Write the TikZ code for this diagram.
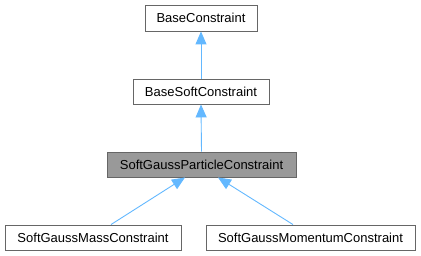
\documentclass[tikz,border=0pt]{standalone}
\usepackage{fontspec}
\setmainfont{Liberation Sans}
\usetikzlibrary{arrows.meta,calc}
\definecolor{boxborder}{HTML}{666666}
\definecolor{hilite}{HTML}{999999}
\definecolor{edgeblue}{HTML}{63B8FF}
\begin{document}
\begin{tikzpicture}[x=1pt,y=-1pt,
  cls/.style={draw=boxborder,fill=white,line width=0.9pt,inner sep=0pt,font=\fontsize{13}{15}\selectfont,anchor=center},
  inh/.style={draw=edgeblue,line width=0.9pt,-{Triangle[length=13pt,width=11pt,fill=edgeblue]}}]
\useasboundingbox (0,0) rectangle (421,256);
\node[cls,minimum width=112pt,minimum height=26pt] (base) at (201,18) {BaseConstraint};
\node[cls,minimum width=136pt,minimum height=25pt] (soft) at (201,91.5) {BaseSoftConstraint};
\node[cls,fill=hilite,minimum width=189pt,minimum height=25pt] (part) at (201.5,164.5) {SoftGaussParticleConstraint};
\node[cls,minimum width=176pt,minimum height=25pt] (mass) at (93,237.5) {SoftGaussMassConstraint};
\node[cls,minimum width=209pt,minimum height=25pt] (mom) at (310.5,237.5) {SoftGaussMomentumConstraint};
\draw[inh] (soft.north) -- (base.south);
\draw[inh] (part.north) -- (soft.south);
\draw[inh] ($(mass.north)+(18,0)$) -- ($(part.south)+(-16.5,0)$);
\draw[inh] ($(mom.north)+(-17.5,0)$) -- ($(part.south)+(16.5,0)$);
\end{tikzpicture}
\end{document}
